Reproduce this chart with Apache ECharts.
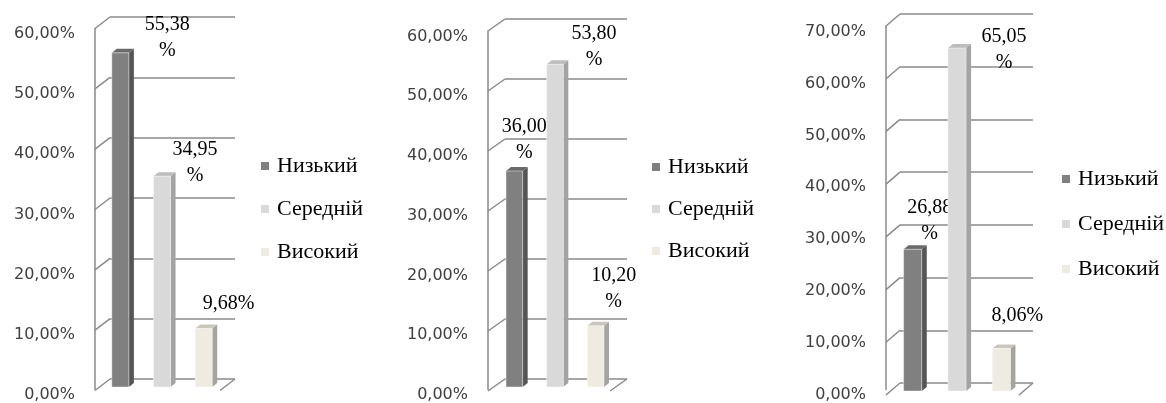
<!DOCTYPE html>
<html><head><meta charset="utf-8">
<script src="https://cdn.jsdelivr.net/npm/echarts@6/dist/echarts.min.js"></script>
<style>html,body{margin:0;padding:0;background:#fff}#c{width:1166px;height:403px}</style>
</head><body><div id="c"></div>
<script>
// ---------- data ----------
const levels = ['Низький', 'Середній', 'Високий'];
const valuesA = [55.38, 34.95, 9.68];
const valuesB = [36.00, 53.80, 10.20];
const valuesC = [26.88, 65.05, 8.06];
const ticksA = [0, 10, 20, 30, 40, 50, 60];
const ticksB = [0, 10, 20, 30, 40, 50, 60];
const ticksC = [0, 10, 20, 30, 40, 50, 60, 70];

// ---------- styles / layout ----------
const gridColor = '#8a8a8a';
const faceColors = [
  { front: '#808080', side: '#555555', top: '#6a6a6a' },
  { front: '#d9d9d9', side: '#a3a3a3', top: '#bdbdbd' },
  { front: '#eeece1', side: '#a5a5a0', top: '#c9c7bc' }
];
const charts = [
  { values: valuesA, ticks: ticksA,
    back: { left: 110, top: 17, width: 125, height: 362 }, depth: [-15, 11.5], barShift: [-10.5, 8],
    legend: { left: 256, top: 150, gap: 21 },
    labelOff: [[47, -28], [33, -26], [25, -25]], wrap: [true, true, false] },
  { values: valuesB, ticks: ticksB,
    back: { left: 505, top: 19, width: 122, height: 360 }, depth: [-17, 12], barShift: [-11, 8],
    legend: { left: 647, top: 151, gap: 20 },
    labelOff: [[10, -44], [39, -30], [18, -50]], wrap: [true, true, true] },
  { values: valuesC, ticks: ticksC,
    back: { left: 900, top: 14, width: 133, height: 369 }, depth: [-14, 12], barShift: [-9.5, 8],
    legend: { left: 1057, top: 163, gap: 23 },
    labelOff: [[17, -42], [47, -11], [16, -33]], wrap: [true, true, false] }
];
const barRatio = 0.41;
const barDepth = [5, -4];

const fmt = v => v.toFixed(2).replace('.', ',') + '%';

const grid = [], xAxis = [], yAxis = [], series = [], legend = [];
charts.forEach((c, k) => {
  const max = c.ticks[c.ticks.length - 1];
  const step = c.ticks[1] - c.ticks[0];
  grid.push({ left: c.back.left, top: c.back.top, width: c.back.width, height: c.back.height });
  grid.push({ left: c.back.left + c.depth[0], top: c.back.top + c.depth[1], width: c.back.width, height: c.back.height });
  xAxis.push({ type: 'category', data: levels, gridIndex: 2 * k, show: false });
  xAxis.push({ type: 'category', data: levels, gridIndex: 2 * k + 1, show: false });
  yAxis.push({ type: 'value', gridIndex: 2 * k, min: 0, max: max, interval: step,
    axisLine: { show: false }, axisTick: { show: false }, axisLabel: { show: false },
    splitLine: { show: true, lineStyle: { color: gridColor, width: 1.5 } } });
  yAxis.push({ type: 'value', gridIndex: 2 * k + 1, min: 0, max: max, interval: step,
    axisLine: { show: true, lineStyle: { color: gridColor, width: 1.5 } }, axisTick: { show: false },
    splitLine: { show: false },
    axisLabel: { formatter: fmt, fontFamily: 'DejaVu Sans', fontSize: 16, color: '#404040', margin: 20,
      verticalAlign: 'top', lineHeight: 11 } });

  series.push({
    type: 'custom', name: 'walls' + k, xAxisIndex: 2 * k, yAxisIndex: 2 * k, silent: true, clip: false, z: 1,
    data: c.ticks.map(t => [0, t]),
    renderItem: (params, api) => {
      const cs = params.coordSys;
      const y = api.coord([0, api.value(1)])[1];
      const d = c.depth;
      const ch = [{ type: 'line', shape: { x1: cs.x + d[0], y1: y + d[1], x2: cs.x, y2: y },
        style: { stroke: gridColor, lineWidth: 1.5 } }];
      if (api.value(1) === 0) {
        ch.push({ type: 'line', shape: { x1: cs.x + cs.width + d[0], y1: y + d[1], x2: cs.x + cs.width, y2: y },
          style: { stroke: gridColor, lineWidth: 1.5 } });
      }
      return { type: 'group', children: ch };
    }
  });

  levels.forEach((lv, i) => {
    const fc = faceColors[i];
    series.push({
      type: 'custom', name: lv, xAxisIndex: 2 * k, yAxisIndex: 2 * k, clip: false, z: 5,
      itemStyle: { color: fc.front },
      encode: { x: 0, y: 1 },
      data: [[i, c.values[i]]],
      renderItem: (params, api) => {
        const top = api.coord([api.value(0), api.value(1)]);
        const base = api.coord([api.value(0), 0]);
        const bw = api.size([1, 0])[0] * barRatio;
        const fx = top[0] + c.barShift[0] - bw / 2;
        const ft = top[1] + c.barShift[1];
        const fb = base[1] + c.barShift[1];
        const sx = barDepth[0], sy = barDepth[1];
        const off = c.labelOff[i];
        const txt = api.value(1).toFixed(2).replace('.', ',') + (c.wrap[i] ? '\n%' : '%');
        return { type: 'group', children: [
          { type: 'polygon', shape: { points: [[fx + bw, ft], [fx + bw + sx, ft + sy], [fx + bw + sx, fb + sy], [fx + bw, fb]] },
            style: { fill: fc.side } },
          { type: 'polygon', shape: { points: [[fx, ft], [fx + sx, ft + sy], [fx + bw + sx, ft + sy], [fx + bw, ft]] },
            style: { fill: fc.top } },
          { type: 'rect', shape: { x: fx, y: ft, width: bw, height: fb - ft },
            style: { fill: fc.front, stroke: 'rgba(255,255,255,0.7)', lineWidth: 0.6 } },
          { type: 'text', x: fx + bw / 2 + off[0], y: ft + off[1] - 13,
            style: { text: txt, fill: '#000', fontFamily: 'Liberation Serif', fontSize: 20,
              align: 'center', verticalAlign: 'top', lineHeight: 26 } }
        ] };
      }
    });
  });

  legend.push({
    orient: 'vertical', left: c.legend.left, top: c.legend.top, itemGap: c.legend.gap,
    icon: 'rect', itemWidth: 8, itemHeight: 8, data: levels, selectedMode: false,
    textStyle: { fontFamily: 'Liberation Serif', fontSize: 22, color: '#000', padding: [0, 0, 0, 3] }
  });
});

const chart = echarts.init(document.getElementById('c'), null, { renderer: 'canvas' });
chart.setOption({ animation: false, backgroundColor: '#fff', grid, xAxis, yAxis, legend, series });
</script>
</body></html>
